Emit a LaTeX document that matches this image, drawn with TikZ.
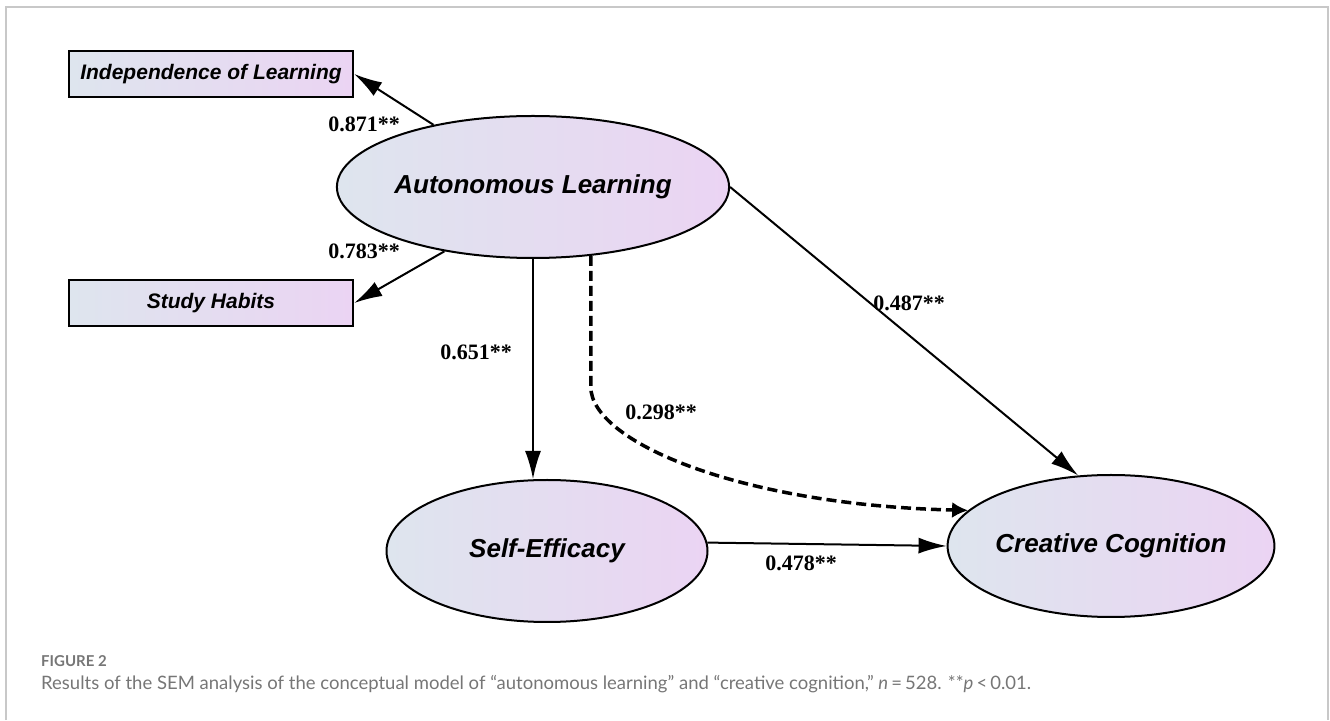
\documentclass[tikz,border=0pt]{standalone}
\usepackage{fontspec}
\setmainfont{Liberation Serif}
\newfontfamily\arialfont{Liberation Sans}
\newfontfamily\capfont{Lato}
\usetikzlibrary{arrows.meta,positioning,shapes.geometric}
\definecolor{fillleft}{RGB}{222,229,238}
\definecolor{fillright}{RGB}{235,212,243}
\definecolor{framegray}{RGB}{200,200,200}
\definecolor{capgray}{RGB}{118,118,118}
\tikzset{%
	latent/.style   = {draw, ellipse, line width=2pt, minimum width=321pt, minimum height=142pt, inner sep=0pt, left color=fillleft, right color=fillright, font=\arialfont\bfseries\itshape\fontsize{26}{30}\selectfont}, % latent variable
	observed/.style = {draw, rectangle, line width=2.5pt, minimum width=284pt, minimum height=46pt, inner sep=0pt, left color=fillleft, right color=fillright, font=\arialfont\bfseries\itshape\fontsize{21}{25}\selectfont}, % indicator
	coef/.style     = {font=\bfseries\fontsize{22}{26}\selectfont, inner sep=0pt}, % path coefficient
	arrow/.style    = {line width=2pt, -{Latex[length=28pt,width=16pt]}},
	indirect/.style = {line width=3.5pt, dash pattern=on 10pt off 5pt, -{Latex[length=16pt,width=16pt]}},
}
\begin{document}
\begin{tikzpicture}[x=1pt,y=1pt]
	\useasboundingbox (0,0) rectangle (1330,720);
	\draw[framegray, line width=1.5pt] (6,0) -- (6,713) -- (1328,713) -- (1328,0);

	\node [latent] (al) at (533,533) {Autonomous Learning};
	\node [latent] (se) [below of=al, node distance=364pt, xshift=14pt] {Self-Efficacy};
	\node [latent] (cc) [right of=se, node distance=564pt, yshift=5pt] {Creative Cognition};
	\node [observed] (ind) at (211,646) {Independence of Learning};
	\node [observed] (sh) [below of=ind, node distance=229pt] {Study Habits};

	\draw[arrow] (al.148) -- (ind.east);
	\draw[arrow] (al.216) -- (sh.east);
	\draw[arrow] (al.south) -- (al.south |- se.north);
	\draw[arrow] (al.east) -- (cc.115);
	\draw[arrow] (se.3) -- (cc.west);
	\draw[indirect] (al.-50) -- ++(0,-131) .. controls +(0,-55) and (740,215) .. (cc.166);

	\node [coef] (l871) at (364,596) {0.871**};
	\node [coef] (l783) at (364,469) {0.783**};
	\node [coef] (l651) at (476,368) {0.651**};
	\node [coef] (l298) at (661,308) {0.298**};
	\node [coef] (l487) at (909,417) {0.487**};
	\node [coef] (l478) at (801,157) {0.478**};

	% caption
	\node [anchor=west, inner sep=0pt, text=capgray, font=\capfont\bfseries\fontsize{15}{18}\selectfont] (fig) at (41,59) {FIGURE 2};
	\node [anchor=west, inner sep=0pt, text=capgray, font=\capfont\fontsize{18.5}{22}\selectfont] (cap) at (41,36) {Results of the SEM analysis of the conceptual model of “autonomous learning” and “creative cognition,” \textit{n}\,=\,528. **\textit{p}\,<\,0.01.};
\end{tikzpicture}
\end{document}
